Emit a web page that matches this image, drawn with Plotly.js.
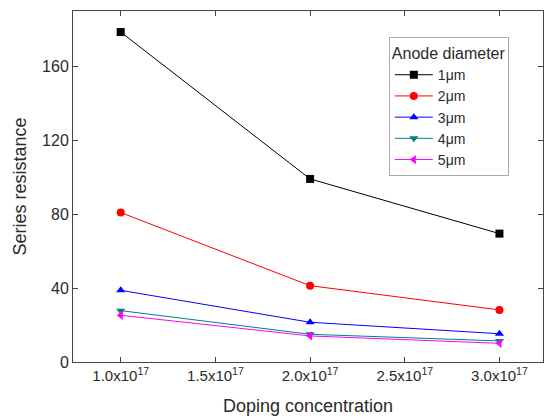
<!DOCTYPE html>
<html>
<head>
<meta charset="utf-8">
<script src="https://cdn.plot.ly/plotly-3.0.1.min.js"></script>
<style>html,body{margin:0;padding:0;background:#fff;}#chart{width:549px;height:419px;}</style>
</head>
<body>
<div id="chart"></div>
<script>
var doping = [1.0e17, 2.0e17, 3.0e17];
var names = ["1\u03bcm", "2\u03bcm", "3\u03bcm", "4\u03bcm", "5\u03bcm"];
var r1 = [178.6, 99.1, 69.5];
var r2 = [80.9, 41.3, 28.2];
var r3 = [38.8, 21.5, 15.3];
var r4 = [27.8, 15.0, 11.4];
var r5 = [25.3, 14.1, 10.1];
var tickVals = [1.0e17, 1.5e17, 2.0e17, 2.5e17, 3.0e17];
var tickText = ["1.0x10<sup>17</sup>", "1.5x10<sup>17</sup>", "2.0x10<sup>17</sup>", "2.5x10<sup>17</sup>", "3.0x10<sup>17</sup>"];
var yTicks = [0, 40, 80, 120, 160];

var series = [r1, r2, r3, r4, r5];
var colors = ["#000000", "#ff0000", "#0000ff", "#008080", "#ff00ff"];
var symbols = ["square", "circle", "triangle-up", "triangle-down", "triangle-left"];

var traces = series.map(function (s, i) {
  return {
    x: doping, y: s, name: names[i], type: "scatter", mode: "lines+markers",
    line: {color: colors[i], width: 1},
    marker: {color: colors[i], symbol: symbols[i], size: 8}
  };
});

var font = {family: "Liberation Sans, Arial, sans-serif", color: "#2a2a2a", size: 15};
var layout = {
  width: 549, height: 419,
  margin: {l: 73, r: 6, t: 11, b: 57},
  paper_bgcolor: "#fff", plot_bgcolor: "#fff",
  font: font,
  showlegend: true,
  xaxis: {
    range: [0.748e17, 3.23e17],
    tickvals: tickVals, ticktext: tickText,
    ticks: "inside", ticklen: 5, tickcolor: "#444",
    showline: true, linecolor: "#444", linewidth: 1, mirror: "ticks",
    showgrid: false, zeroline: false,
    tickfont: {size: 15, color: "#2a2a2a"},
    title: {text: "Doping concentration", font: {size: 18, color: "#2a2a2a"}, standoff: 16}
  },
  yaxis: {
    range: [0, 190],
    tickvals: yTicks,
    ticks: "inside", ticklen: 5, tickcolor: "#444",
    showline: true, linecolor: "#444", linewidth: 1, mirror: "ticks",
    showgrid: false, zeroline: false,
    tickfont: {size: 16, color: "#2a2a2a"},
    title: {text: "Series resistance", font: {size: 18, color: "#2a2a2a"}, standoff: 10}
  },
  legend: {
    x: 0.672, y: 0.925, xanchor: "left", yanchor: "top",
    bordercolor: "#aaa", borderwidth: 1, bgcolor: "#fff",
    font: {size: 14, color: "#2a2a2a"},
    title: {text: "Anode diameter", font: {size: 16, color: "#2a2a2a"}},
    itemwidth: 38
  }
};

Plotly.newPlot("chart", traces, layout, {staticPlot: true, displayModeBar: false});
</script>
</body>
</html>
